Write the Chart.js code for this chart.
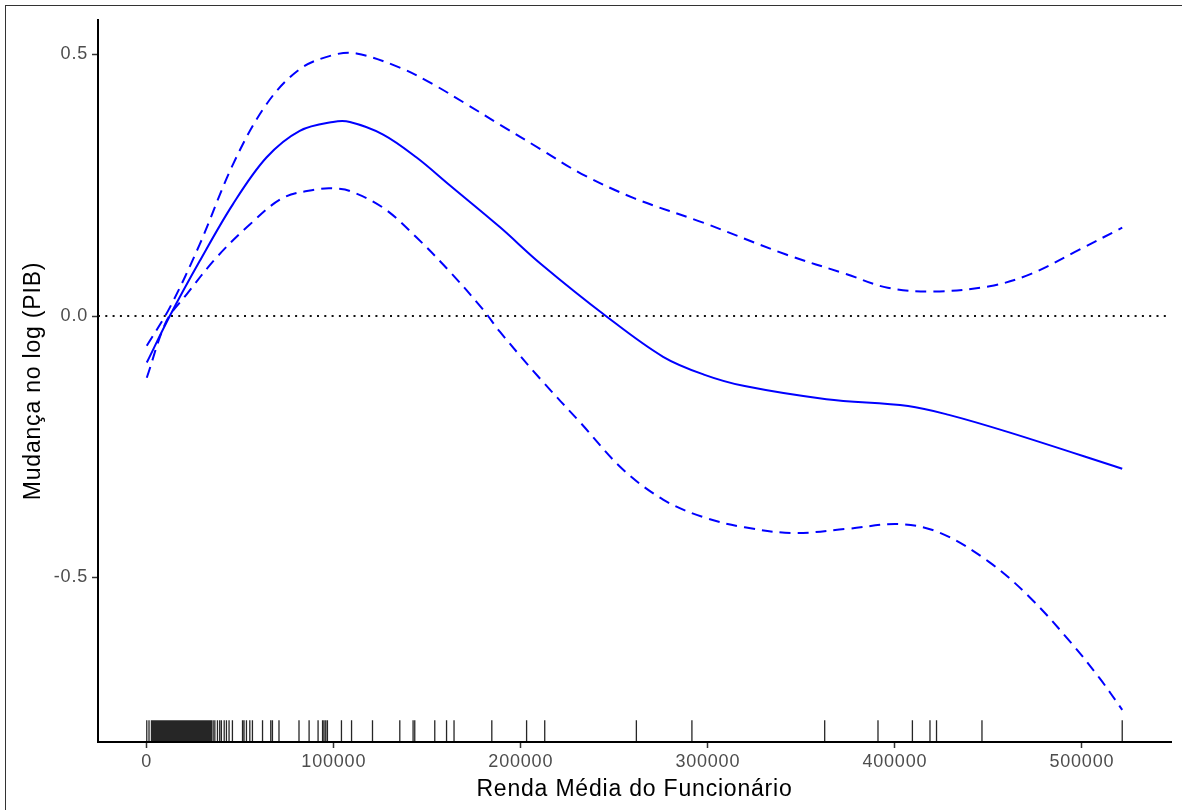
<!DOCTYPE html>
<html lang="pt">
<head>
<meta charset="utf-8">
<title>Mudança no log (PIB)</title>
<script src="https://cdn.jsdelivr.net/npm/chart.js@4.4.1/dist/chart.umd.min.js"></script>
<style>
  html, body { margin: 0; padding: 0; background: #fff; }
  #wrap { position: relative; width: 1182px; height: 810px; overflow: hidden; }
  #grafico { display: block; }
  #moldura { position: absolute; left: 5px; top: 5px; right: -10px; bottom: -10px;
             border-left: 1.5px solid #333; border-top: 1.5px solid #333; pointer-events: none; }
</style>
</head>
<body>
<div id="wrap">
  <canvas id="grafico" width="1182" height="810"></canvas>
  <div id="moldura"></div>
</div>
<script>
// efeito estimado (suavização) e intervalo de confiança
const ajusteX = [0, 12300, 28300, 46100, 64000, 81800, 99600, 108600, 126400, 144300, 162000,
                 188800, 210600, 245500, 276100, 297900, 319700, 363400, 407100, 428900, 461600, 521600];
const ajusteY = [-0.089, 0, 0.105, 0.214, 0.303, 0.354, 0.371, 0.371, 0.347, 0.303, 0.250,
                 0.170, 0.100, 0, -0.078, -0.112, -0.134, -0.159, -0.172, -0.189, -0.223, -0.292];

const superiorX = [0, 12300, 28300, 46100, 64000, 81800, 99600, 112100, 135300, 153100, 171000, 188800,
                   210600, 232400, 260800, 297900, 341500, 374300, 396200, 421200, 450700, 472500, 498700, 521600];
const superiorY = [-0.057, 0.016, 0.137, 0.29, 0.405, 0.472, 0.499, 0.502, 0.475, 0.443, 0.405, 0.366,
                   0.319, 0.272, 0.225, 0.178, 0.118, 0.080, 0.054, 0.047, 0.057, 0.080, 0.127, 0.169];

const inferiorX = [0, 10500, 21200, 37300, 55100, 72900, 90700, 99600, 108600, 126400, 144300, 162000,
                   179900, 188800, 210600, 232400, 254200, 276100, 297900, 319700, 345900, 374300, 402700,
                   424500, 450700, 472500, 494300, 509600, 521600];
const inferiorY = [-0.118, -0.010, 0.041, 0.112, 0.175, 0.226, 0.242, 0.244, 0.239, 0.207, 0.150, 0.085,
                   0.012, -0.030, -0.121, -0.206, -0.292, -0.351, -0.385, -0.404, -0.415, -0.407, -0.398,
                   -0.415, -0.471, -0.539, -0.625, -0.693, -0.753];

// renda média observada em cada município (marcas na base do gráfico)
const rendaObservada = [0, 1200,
  2500, 2750, 3100, 3350, 3500, 3800, 4200, 4400, 4600, 4950, 5300, 5550, 5800, 6000, 6200, 6550, 6900,
  7150, 7400, 7600, 7800, 8150, 8500, 8800, 9100, 9400, 9700, 10100, 10350, 10600, 10900, 11200, 11500,
  11850, 12300, 12500, 12700, 12950, 13200, 13550, 13900, 14300, 14550, 14800, 15200, 15600, 15800, 16000,
  16250, 16500, 16850, 17200, 17400, 17600, 17950, 18300, 18500, 18700, 19050, 19400, 19800, 20100, 20500,
  20750, 21000, 21400, 21750, 22100, 22350, 22600, 23000, 23400, 23800, 24200, 24450, 24700, 25050, 25400,
  25900, 26300, 26650, 27000, 27250, 27500, 27800, 28100, 28600, 29000, 29400, 29800, 30200, 30450, 30700,
  31050, 31400, 31900, 32300, 32650, 33000, 33300, 33600, 34100, 34600,
  35500, 36400, 37800, 39000, 39900, 41400, 42600, 44000, 45800, 51200, 52000, 53300,
  55100, 56500, 61900, 66300, 67200, 70700, 81400, 86800, 91600, 94000, 94800, 95700, 96600, 104100,
  109500, 120700, 135300, 142400, 143300, 154000, 160300, 164300, 184500, 203100, 212800, 261800, 291500,
  362500, 391000, 409400, 418800, 422300, 446600, 521600];

const ticksX = [0, 100000, 200000, 300000, 400000, 500000];
const ticksY = [-0.5, 0, 0.5];
const limitesX = [-26080, 547680];
const limitesY = [-0.8145, 0.566];

const pares = (xs, ys) => xs.map((x, i) => ({ x: x, y: ys[i] }));

const AZUL = 'rgb(0,0,255)';

// marcas de tapete (rug) ao longo do eixo x
const tapete = {
  id: 'tapete',
  afterDatasetsDraw(chart) {
    const { ctx, chartArea, scales } = chart;
    const altura = chartArea.height * 0.03;
    ctx.save();
    ctx.strokeStyle = 'rgba(0,0,0,0.85)';
    ctx.lineWidth = 1.3;
    ctx.beginPath();
    rendaObservada.forEach(v => {
      const px = scales.x.getPixelForValue(v);
      ctx.moveTo(px, chartArea.bottom);
      ctx.lineTo(px, chartArea.bottom - altura);
    });
    ctx.stroke();
    ctx.restore();
  }
};

// textos um pouco mais espaçados
const espacamento = {
  id: 'espacamento',
  beforeDraw(chart) { chart.ctx.letterSpacing = '0.8px'; }
};

const ctx = document.getElementById('grafico').getContext('2d');

new Chart(ctx, {
  type: 'line',
  data: {
    datasets: [
      {
        data: [{ x: limitesX[0], y: 0 }, { x: limitesX[1], y: 0 }],
        borderColor: '#111',
        borderWidth: 2,
        borderDash: [2, 5.3],
        borderCapStyle: 'butt',
        pointRadius: 0
      },
      {
        data: pares(superiorX, superiorY),
        borderColor: AZUL,
        borderWidth: 2,
        borderDash: [11, 7],
        tension: 0.35,
        pointRadius: 0
      },
      {
        data: pares(inferiorX, inferiorY),
        borderColor: AZUL,
        borderWidth: 2,
        borderDash: [11, 7],
        tension: 0.35,
        pointRadius: 0
      },
      {
        data: pares(ajusteX, ajusteY),
        borderColor: AZUL,
        borderWidth: 2,
        tension: 0.35,
        pointRadius: 0
      }
    ]
  },
  options: {
    responsive: false,
    animation: false,
    devicePixelRatio: 1,
    layout: { padding: { left: 0, right: 11, top: 20, bottom: 0 } },
    plugins: { legend: { display: false }, tooltip: { enabled: false } },
    scales: {
      x: {
        type: 'linear',
        min: limitesX[0],
        max: limitesX[1],
        afterBuildTicks: s => { s.ticks = ticksX.map(v => ({ value: v })); },
        afterFit: s => { s.height = 68; },
        grid: { drawOnChartArea: false, drawTicks: true, tickLength: 6, tickColor: '#333', tickWidth: 1.5 },
        border: { display: true, color: '#000', width: 2 },
        ticks: {
          color: '#4d4d4d',
          font: { family: 'Liberation Sans', size: 18 },
          padding: 3,
          maxRotation: 0,
          callback: v => String(v)
        },
        title: {
          display: true,
          text: 'Renda Média do Funcionário',
          color: '#000',
          font: { family: 'Liberation Sans', size: 23 },
          padding: { top: 0, bottom: 7 }
        }
      },
      y: {
        type: 'linear',
        min: limitesY[0],
        max: limitesY[1],
        afterBuildTicks: s => { s.ticks = ticksY.map(v => ({ value: v })); },
        afterFit: s => { s.width = 98; },
        grid: { drawOnChartArea: false, drawTicks: true, tickLength: 6, tickColor: '#333', tickWidth: 1.5 },
        border: { display: true, color: '#000', width: 2 },
        ticks: {
          color: '#4d4d4d',
          font: { family: 'Liberation Sans', size: 18 },
          padding: 4,
          callback: v => v.toFixed(1)
        },
        title: {
          display: true,
          text: 'Mudança no log (PIB)',
          color: '#000',
          font: { family: 'Liberation Sans', size: 23 },
          padding: { top: 20, bottom: 0 }
        }
      }
    }
  },
  plugins: [espacamento, tapete]
});
</script>
</body>
</html>
